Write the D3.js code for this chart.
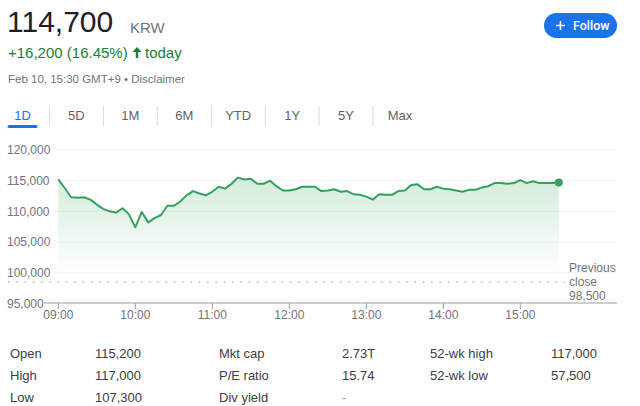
<!DOCTYPE html>
<html>
<head>
<meta charset="utf-8">
<script src="https://cdn.jsdelivr.net/npm/d3@7.9.0/dist/d3.min.js"></script>
<style>
  body { margin: 0; background: #fff; }
  svg { display: block; font-family: "Liberation Sans", Arial, sans-serif; }
</style>
</head>
<body>
<svg id="chart" width="640" height="406"></svg>
<script>
// intraday quotes, 5-minute steps
const times = [
  "09:00","09:05","09:10","09:15","09:20","09:25","09:30","09:35","09:40","09:45","09:50","09:55",
  "10:00","10:05","10:10","10:15","10:20","10:25","10:30","10:35","10:40","10:45","10:50","10:55",
  "11:00","11:05","11:10","11:15","11:20","11:25","11:30","11:35","11:40","11:45","11:50","11:55",
  "12:00","12:05","12:10","12:15","12:20","12:25","12:30","12:35","12:40","12:45","12:50","12:55",
  "13:00","13:05","13:10","13:15","13:20","13:25","13:30","13:35","13:40","13:45","13:50","13:55",
  "14:00","14:05","14:10","14:15","14:20","14:25","14:30","14:35","14:40","14:45","14:50","14:55",
  "15:00","15:05","15:10","15:15","15:20","15:25","15:30"
];
const prices = [
  115200,113800,112300,112200,112300,111900,111100,110400,110000,109800,110500,109500,
  107400,109900,108200,108900,109400,110900,110900,111600,112600,113300,112900,112600,
  113200,114000,113700,114500,115500,115200,115300,114500,114500,115000,114100,113400,
  113400,113600,114000,114000,114000,113300,113400,113600,113200,113300,112800,112700,
  112400,111900,112800,112700,112700,113300,113400,114300,114400,113600,113600,114000,
  113700,113600,113400,113200,113500,113500,113900,114100,114600,114600,114500,114600,
  115100,114600,114900,114600,114600,114600,114700
];
const yTicks = [95000, 100000, 105000, 110000, 115000, 120000];
const xTicks = ["09:00","10:00","11:00","12:00","13:00","14:00","15:00"];
const prevClose = 98500;
const tabs = ["1D","5D","1M","6M","YTD","1Y","5Y","Max"];
const statLabels = [["Open","High","Low"],["Mkt cap","P/E ratio","Div yield"],["52-wk high","52-wk low"]];
const statValues = [["115,200","117,000","107,300"],["2.73T","15.74","-"],["117,000","57,500"]];

const svg = d3.select("#chart");
const parse = d3.timeParse("%H:%M");
const data = times.map((t, i) => ({ t: parse(t), v: prices[i] }));

const x = d3.scaleTime().domain([parse("09:00"), parse("15:30")]).range([58.3, 558.8]);
const y = d3.scaleLinear().domain([95000, 120000]).range([303.3, 150]);

// header
svg.append("text").attr("x", 7).attr("y", 32).attr("font-size", 30).attr("fill", "#202124").text("114,700");
svg.append("text").attr("x", 130).attr("y", 33).attr("font-size", 15).attr("fill", "#70757a").text("KRW");
svg.append("text").attr("x", 8).attr("y", 58).attr("font-size", 15).attr("fill", "#188038").text("+16,200 (16.45%)");
svg.append("path").attr("d", "M137,47 L132.5,52 L135.8,52 L135.8,58 L138.2,58 L138.2,52 L141.5,52 Z").attr("fill", "#188038");
svg.append("text").attr("x", 145).attr("y", 58).attr("font-size", 15).attr("fill", "#188038").text("today");
svg.append("text").attr("x", 8).attr("y", 83).attr("font-size", 11.5).attr("fill", "#70757a")
  .text("Feb 10, 15:30 GMT+9 \u2022 Disclaimer");

// follow button
svg.append("rect").attr("x", 544).attr("y", 13).attr("width", 73).attr("height", 25).attr("rx", 12.5).attr("fill", "#1a73e8");
svg.append("path").attr("d", "M556,25.5 H565 M560.5,21 V30").attr("stroke", "#fff").attr("stroke-width", 1.6);
svg.append("text").attr("x", 573).attr("y", 30).attr("font-size", 12.5).attr("font-family", "Roboto, sans-serif")
  .attr("font-weight", 500).attr("fill", "#fff").text("Follow");

// range tabs
const tabX = d3.scalePoint().domain(tabs).range([22.5, 400]);
svg.append("g").selectAll("text").data(tabs).join("text")
  .attr("x", d => tabX(d)).attr("y", 120).attr("text-anchor", "middle").attr("font-size", 13)
  .attr("fill", d => d === "1D" ? "#1a73e8" : "#5f6368").text(d => d);
svg.append("g").selectAll("line").data(tabs.slice(1)).join("line")
  .attr("x1", d => tabX(d) - tabX.step() / 2).attr("x2", d => tabX(d) - tabX.step() / 2)
  .attr("y1", 106).attr("y2", 126).attr("stroke", "#dadce0");
svg.append("rect").attr("x", 7.5).attr("y", 125).attr("width", 30).attr("height", 3).attr("rx", 1.5).attr("fill", "#1a73e8");

// gridlines + y labels
svg.append("g").selectAll("line").data(yTicks.filter(d => d > 95000)).join("line")
  .attr("x1", 55).attr("x2", 616).attr("y1", d => y(d)).attr("y2", d => y(d))
  .attr("stroke", "#f1f3f4");
svg.append("g").selectAll("text").data(yTicks).join("text")
  .attr("x", 7).attr("y", d => y(d)).attr("dy", "0.35em").attr("font-size", 12).attr("fill", "#70757a")
  .text(d => d3.format(",")(d));

// area + line
const defs = svg.append("defs");
const grad = defs.append("linearGradient").attr("id", "fillGrad").attr("gradientUnits", "userSpaceOnUse")
  .attr("x1", 0).attr("x2", 0).attr("y1", 175).attr("y2", y(100000));
grad.append("stop").attr("offset", 0).attr("stop-color", "#34a853").attr("stop-opacity", 0.22);
grad.append("stop").attr("offset", 1).attr("stop-color", "#34a853").attr("stop-opacity", 0);

svg.append("path").datum(data)
  .attr("d", d3.area().x(d => x(d.t)).y0(y(100000)).y1(d => y(d.v)))
  .attr("fill", "url(#fillGrad)");

// previous close
svg.append("line").attr("x1", 8).attr("x2", 565).attr("y1", y(prevClose)).attr("y2", y(prevClose))
  .attr("stroke", "#9aa0a6").attr("stroke-width", 1.3).attr("stroke-dasharray", "1.3 7");
svg.append("g").selectAll("text").data(["Previous", "close", d3.format(",")(prevClose)]).join("text")
  .attr("x", 569).attr("y", (d, i) => 268 + i * 14).attr("dy", "0.35em").attr("font-size", 12)
  .attr("fill", "#70757a").text(d => d);

svg.append("path").datum(data)
  .attr("d", d3.line().x(d => x(d.t)).y(d => y(d.v)))
  .attr("fill", "none").attr("stroke", "#34a160").attr("stroke-width", 2).attr("stroke-linejoin", "round");
const last = data[data.length - 1];
svg.append("circle").attr("cx", x(last.t)).attr("cy", y(last.v)).attr("r", 4).attr("fill", "#34a160");

// x axis
svg.append("line").attr("x1", 44).attr("x2", 617).attr("y1", 303).attr("y2", 303).attr("stroke", "#9aa0a6").attr("stroke-width", 1.2);
const xg = svg.append("g").selectAll("g").data(xTicks).join("g")
  .attr("transform", d => `translate(${x(parse(d))},303)`);
xg.append("line").attr("y1", 0).attr("y2", 6).attr("stroke", "#9aa0a6");
xg.append("text").attr("y", 16).attr("text-anchor", "middle").attr("font-size", 12).attr("fill", "#70757a").text(d => d);

// stats table
const colX = [[10, 95], [219, 342], [430, 551]];
statLabels.forEach((col, c) => {
  col.forEach((lab, r) => {
    const yy = 353.5 + r * 22.2;
    svg.append("text").attr("x", colX[c][0]).attr("y", yy).attr("dy", "0.35em").attr("font-size", 13)
      .attr("fill", "#3c4043").text(lab);
    svg.append("text").attr("x", colX[c][1]).attr("y", yy).attr("dy", "0.35em").attr("font-size", 13)
      .attr("fill", statValues[c][r] === "-" ? "#9aa0a6" : "#3c4043").text(statValues[c][r]);
  });
});
</script>
</body>
</html>
